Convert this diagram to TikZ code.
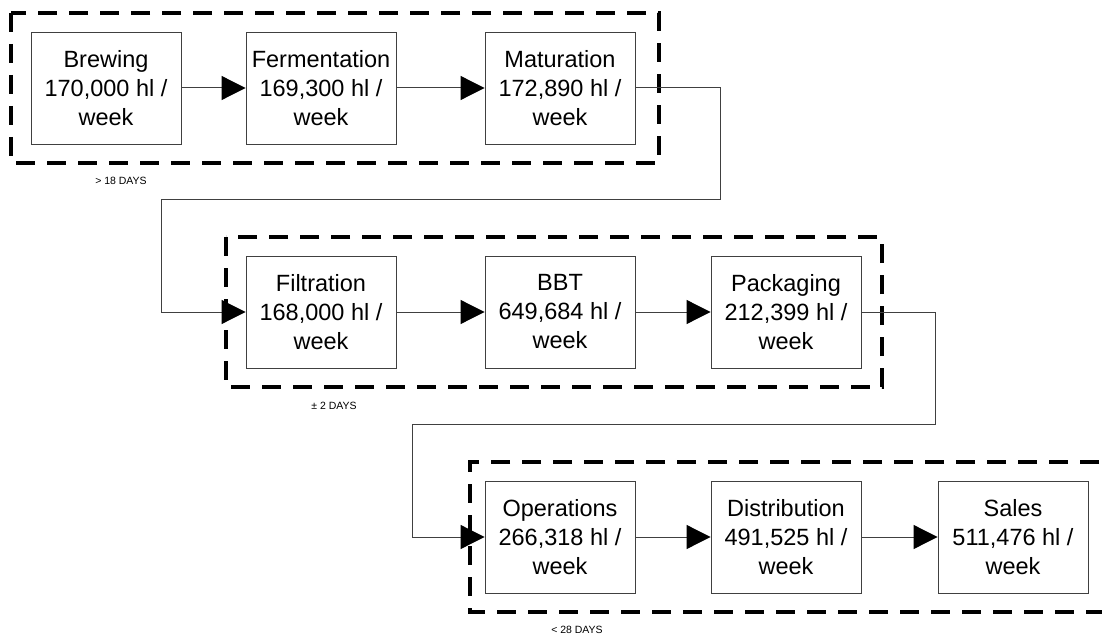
\documentclass[tikz,border=0pt]{standalone}
\usepackage{fontspec}
\setmainfont{Liberation Sans}
\usetikzlibrary{arrows.meta}
\begin{document}
\begin{tikzpicture}[x=1pt,y=-1pt,
  stage/.style={draw=black!75, line width=0.9pt, fill=white, minimum width=150pt, minimum height=112pt,
    inner sep=0pt, align=center, font=\fontsize{23.5}{29}\selectfont},
  flow/.style={draw=black!75, line width=1pt, -{Triangle[length=24pt,width=24pt,color=black,fill=black]}},
  link/.style={draw=black!75, line width=1pt},
  phase/.style={draw=black, line width=3.8pt, dash pattern=on 19pt off 12pt},
  span/.style={font=\fontsize{10.5}{12}\selectfont}]
\useasboundingbox (0,0) rectangle (1102,636);
\path[clip] (0,0) rectangle (1102,636);
\fill[white] (0,0) rectangle (1102,636);

% phase frames
\draw[phase] (11,13) rectangle (659,163);
\draw[phase] (226,237) rectangle (882,387);
\draw[phase] (1130,462) -- (470,462) -- (470,612) -- (1130,612);

% stages
\node[stage] (brew) at (106,88)  {Brewing\\170,000 hl /\\week};
\node[stage] (ferm) at (321,88)  {Fermentation\\169,300 hl /\\week};
\node[stage] (mat)  at (560,88)  {Maturation\\172,890 hl /\\week};
\node[stage] (filt) at (321,312) {Filtration\\168,000 hl /\\week};
\node[stage] (bbt)  at (560,312) {BBT\\649,684 hl /\\week};
\node[stage] (pack) at (786,312) {Packaging\\212,399 hl /\\week};
\node[stage] (ops)  at (560,537) {Operations\\266,318 hl /\\week};
\node[stage] (dist) at (786,537) {Distribution\\491,525 hl /\\week};
\node[stage] (sale) at (1013,537) {Sales\\511,476 hl /\\week};

% phase durations
\node[span] (d1) at (121,181) {> 18 DAYS};
\node[span] (d2) at (334,406) {± 2 DAYS};
\node[span] (d3) at (577,630) {< 28 DAYS};

% routing points between rows
\coordinate (r1a) at (720,200);
\coordinate (r1b) at (161,200);
\coordinate (r2a) at (935,424);
\coordinate (r2b) at (412,424);

% flow
\draw[flow] (brew) -- (ferm);
\draw[flow] (ferm) -- (mat);
\draw[link] (mat.east) -| (r1a) -- (r1b);
\draw[flow] (r1b) |- (filt.west);
\draw[flow] (filt) -- (bbt);
\draw[flow] (bbt) -- (pack);
\draw[link] (pack.east) -| (r2a) -- (r2b);
\draw[flow] (r2b) |- (ops.west);
\draw[flow] (ops) -- (dist);
\draw[flow] (dist) -- (sale);
\end{tikzpicture}
\end{document}
